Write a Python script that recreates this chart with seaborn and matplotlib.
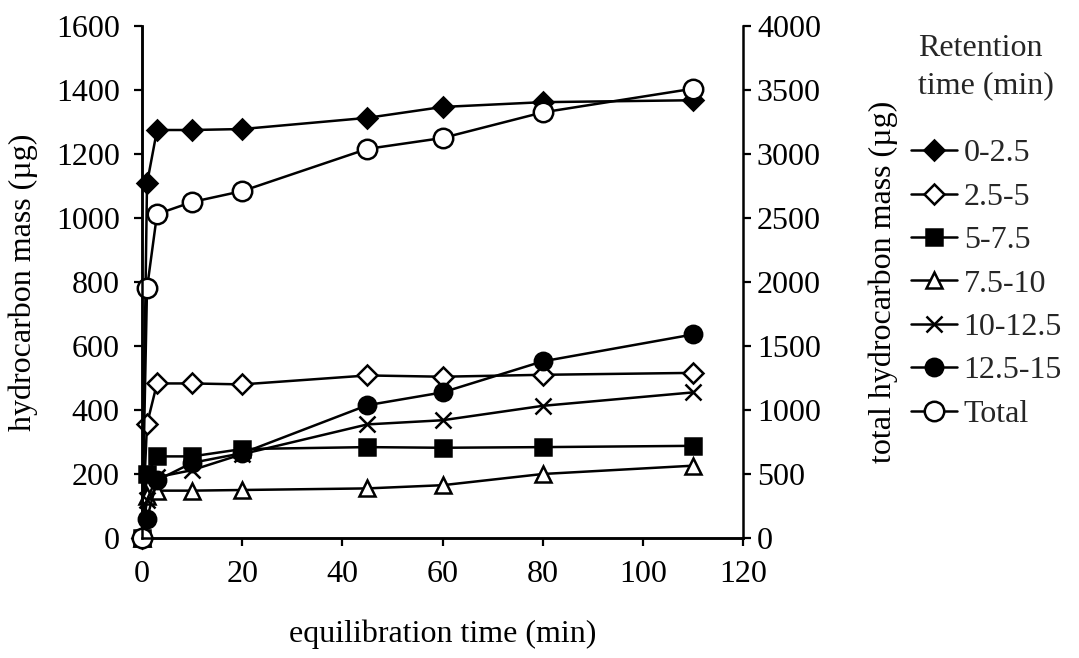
import matplotlib
matplotlib.use("Agg")
import matplotlib.pyplot as plt
import seaborn as sns

# ===================== DATOS =====================
time_min = [0, 1, 3, 10, 20, 45, 60, 80, 110]

rt_0_25 = [0, 1108, 1275, 1275, 1278, 1313, 1347, 1362, 1368]
rt_25_5 = [0, 356, 483, 483, 480, 508, 504, 510, 516]
rt_5_75 = [0, 200, 255, 255, 278, 284, 282, 284, 288]
rt_75_10 = [0, 130, 148, 148, 150, 155, 165, 200, 226]
rt_10_125 = [0, 120, 190, 212, 262, 355, 368, 413, 455]
rt_125_15 = [0, 60, 180, 235, 265, 415, 455, 552, 636]
total = [0, 1950, 2530, 2625, 2710, 3040, 3125, 3325, 3510]

labels = ["0-2.5", "2.5-5", "5-7.5", "7.5-10", "10-12.5", "12.5-15"]
left_series = [rt_0_25, rt_25_5, rt_5_75, rt_75_10, rt_10_125, rt_125_15]

# marker, facecolor, size
styles = [
    ("D", "black", 10),
    ("D", "white", 10),
    ("s", "black", 11.5),
    ("^", "white", 11.5),
    ("x", "black", 12),
    ("o", "black", 12.5),
]

FS = 23

# ===================== ESTILO =====================
sns.set_theme(style="white")
plt.rcParams["font.family"] = ["Liberation Serif", "DejaVu Serif"]

fig = plt.figure(figsize=(10.79, 6.58), dpi=100)
ax = fig.add_axes([142 / 1079, 1 - 538 / 658, 601 / 1079, 512 / 658])
ax2 = ax.twinx()

handles = []
for vals, lab, (mk, fc, ms) in zip(left_series, labels, styles):
    sns.lineplot(x=time_min, y=vals, ax=ax, color="black", lw=1.8,
                 marker=mk, markersize=ms, markerfacecolor=fc,
                 markeredgecolor="black", markeredgewidth=1.8,
                 clip_on=False, label=lab, legend=False)
    handles.append(ax.lines[-1])

sns.lineplot(x=time_min, y=total, ax=ax2, color="black", lw=1.8,
             marker="o", markersize=14, markerfacecolor="white",
             markeredgecolor="black", markeredgewidth=1.8,
             clip_on=False, label="Total", legend=False)
handles.append(ax2.lines[-1])

# ===================== EJES =====================
ax.set_xlim(0, 120)
ax.set_ylim(0, 1600)
ax2.set_ylim(0, 4000)
ax.set_xticks(range(0, 121, 20))
ax.set_yticks(range(0, 1601, 200))
ax2.set_yticks(range(0, 4001, 500))

for a in (ax, ax2):
    a.spines["top"].set_visible(False)
    for s in a.spines.values():
        s.set_color("black")
        s.set_linewidth(1.8)
    a.grid(False)
ax.spines["right"].set_visible(False)

ax.tick_params(axis="both", direction="out", length=6, width=1.6,
               colors="black", labelsize=FS, left=True, bottom=True)
ax.tick_params(axis="y", pad=10)
ax.tick_params(axis="x", pad=10)
ax2.tick_params(axis="y", direction="out", length=6, width=1.6,
                colors="black", labelsize=FS, right=True, pad=4)

ax.set_xlabel("equilibration time (min)", fontsize=FS, color="black")
ax.set_ylabel("hydrocarbon mass (µg)", fontsize=FS, color="black")
ax2.set_ylabel("total hydrocarbon mass (µg)", fontsize=FS, color="black",
               rotation=90)
ax.xaxis.set_label_coords(0.5, -0.16)
ax.yaxis.set_label_coords((38 - 142) / 601, 0.5)
ax2.yaxis.set_label_coords((868 - 142) / 601, 0.5)

# ===================== LEYENDA =====================
fig.text(918 / 1079, 1 - 34 / 658, "Retention\ntime (min)", fontsize=FS,
         va="top", ha="left", linespacing=1.38)
fig.legend(handles=handles, labels=labels + ["Total"],
           loc="upper left", bbox_to_anchor=(911 / 1079, 1 - 139 / 658),
           frameon=False, fontsize=FS, handlelength=1.45, handletextpad=0.2,
           labelspacing=0.44, borderpad=0, borderaxespad=0)

fig.savefig("out.png", dpi=100)
